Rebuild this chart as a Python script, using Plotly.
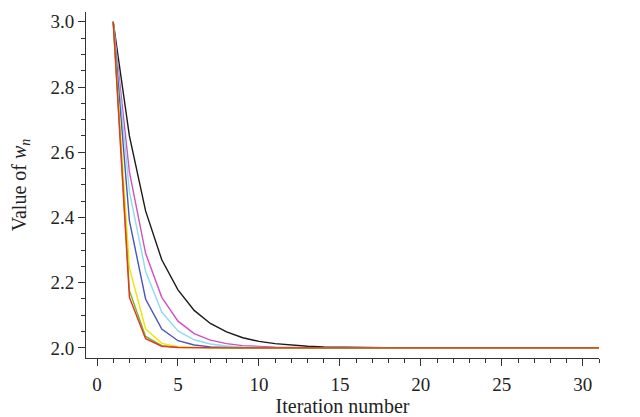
import plotly.graph_objects as go

iterations = list(range(1, 32))

black = [3.0, 2.65, 2.42, 2.27, 2.178, 2.115, 2.075, 2.049, 2.031, 2.02, 2.013, 2.008, 2.005, 2.003, 2.002, 2.001,
         2.0005, 2.0, 2.0, 2.0, 2.0, 2.0, 2.0, 2.0, 2.0, 2.0, 2.0, 2.0, 2.0, 2.0, 2.0]
magenta = [3.0, 2.54, 2.29, 2.155, 2.082, 2.044, 2.024, 2.013, 2.007, 2.004, 2.002, 2.001, 2.0, 2.0, 2.0, 2.0,
           2.0, 2.0, 2.0, 2.0, 2.0, 2.0, 2.0, 2.0, 2.0, 2.0, 2.0, 2.0, 2.0, 2.0, 2.0]
cyan = [3.0, 2.48, 2.235, 2.11, 2.052, 2.025, 2.012, 2.006, 2.003, 2.001, 2.0, 2.0, 2.0, 2.0, 2.0, 2.0,
        2.0, 2.0, 2.0, 2.0, 2.0, 2.0, 2.0, 2.0, 2.0, 2.0, 2.0, 2.0, 2.0, 2.0, 2.0]
blue = [3.0, 2.39, 2.15, 2.058, 2.022, 2.009, 2.003, 2.001, 2.0, 2.0, 2.0, 2.0, 2.0, 2.0, 2.0, 2.0,
        2.0, 2.0, 2.0, 2.0, 2.0, 2.0, 2.0, 2.0, 2.0, 2.0, 2.0, 2.0, 2.0, 2.0, 2.0]
yellow = [3.0, 2.245, 2.058, 2.014, 2.004, 2.001, 2.0, 2.0, 2.0, 2.0, 2.0, 2.0, 2.0, 2.0, 2.0, 2.0,
          2.0, 2.0, 2.0, 2.0, 2.0, 2.0, 2.0, 2.0, 2.0, 2.0, 2.0, 2.0, 2.0, 2.0, 2.0]
green = [3.0, 2.175, 2.035, 2.007, 2.0015, 2.0003, 2.0, 2.0, 2.0, 2.0, 2.0, 2.0, 2.0, 2.0, 2.0, 2.0,
         2.0, 2.0, 2.0, 2.0, 2.0, 2.0, 2.0, 2.0, 2.0, 2.0, 2.0, 2.0, 2.0, 2.0, 2.0]
red = [3.0, 2.155, 2.028, 2.005, 2.001, 2.0, 2.0, 2.0, 2.0, 2.0, 2.0, 2.0, 2.0, 2.0, 2.0, 2.0,
       2.0, 2.0, 2.0, 2.0, 2.0, 2.0, 2.0, 2.0, 2.0, 2.0, 2.0, 2.0, 2.0, 2.0, 2.0]

series = [
    (black, "#1a1a1a"),
    (magenta, "#d24fbf"),
    (cyan, "#8fdcea"),
    (blue, "#4a55b8"),
    (yellow, "#f2e200"),
    (green, "#6cbf1a"),
    (red, "#e5332a"),
]

fig = go.Figure()
for vals, col in series:
    fig.add_trace(go.Scatter(x=iterations, y=vals, mode="lines",
                             line=dict(color=col, width=1.4), showlegend=False,
                             hoverinfo="skip"))

font_family = "Liberation Serif, Times New Roman, serif"
fig.update_layout(
    width=640, height=417,
    margin=dict(l=86, r=41, t=12, b=59),
    paper_bgcolor="white", plot_bgcolor="white",
    font=dict(family=font_family, size=19, color="#222"),
)
fig.update_xaxes(
    range=[-0.68, 31], tickvals=[0, 5, 10, 15, 20, 25, 30],
    showgrid=False, zeroline=False, showline=True, linecolor="#333", linewidth=1,
    ticks="outside", ticklen=7, tickcolor="#333", automargin=False,
    ticklabelstandoff=2,
    minor=dict(dtick=1, ticks="outside", ticklen=4, tickcolor="#333"),
    title=dict(text="Iteration number", font=dict(size=20), standoff=7),
)
fig.update_yaxes(
    range=[1.969, 3.03], tickvals=[2.0, 2.2, 2.4, 2.6, 2.8, 3.0], tickformat=".1f",
    showgrid=False, zeroline=False, showline=True, linecolor="#333", linewidth=1,
    ticks="outside", ticklen=7, tickcolor="#333", automargin=False,
    minor=dict(dtick=0.05, tick0=2.0, ticks="outside", ticklen=4, tickcolor="#333"),
    title=dict(text="Value of <i>w</i><sub><i>n</i></sub>", font=dict(size=20), standoff=18),
)

fig.write_html("out.html", config={"displayModeBar": False},
               post_script="document.body.style.margin='0';")
